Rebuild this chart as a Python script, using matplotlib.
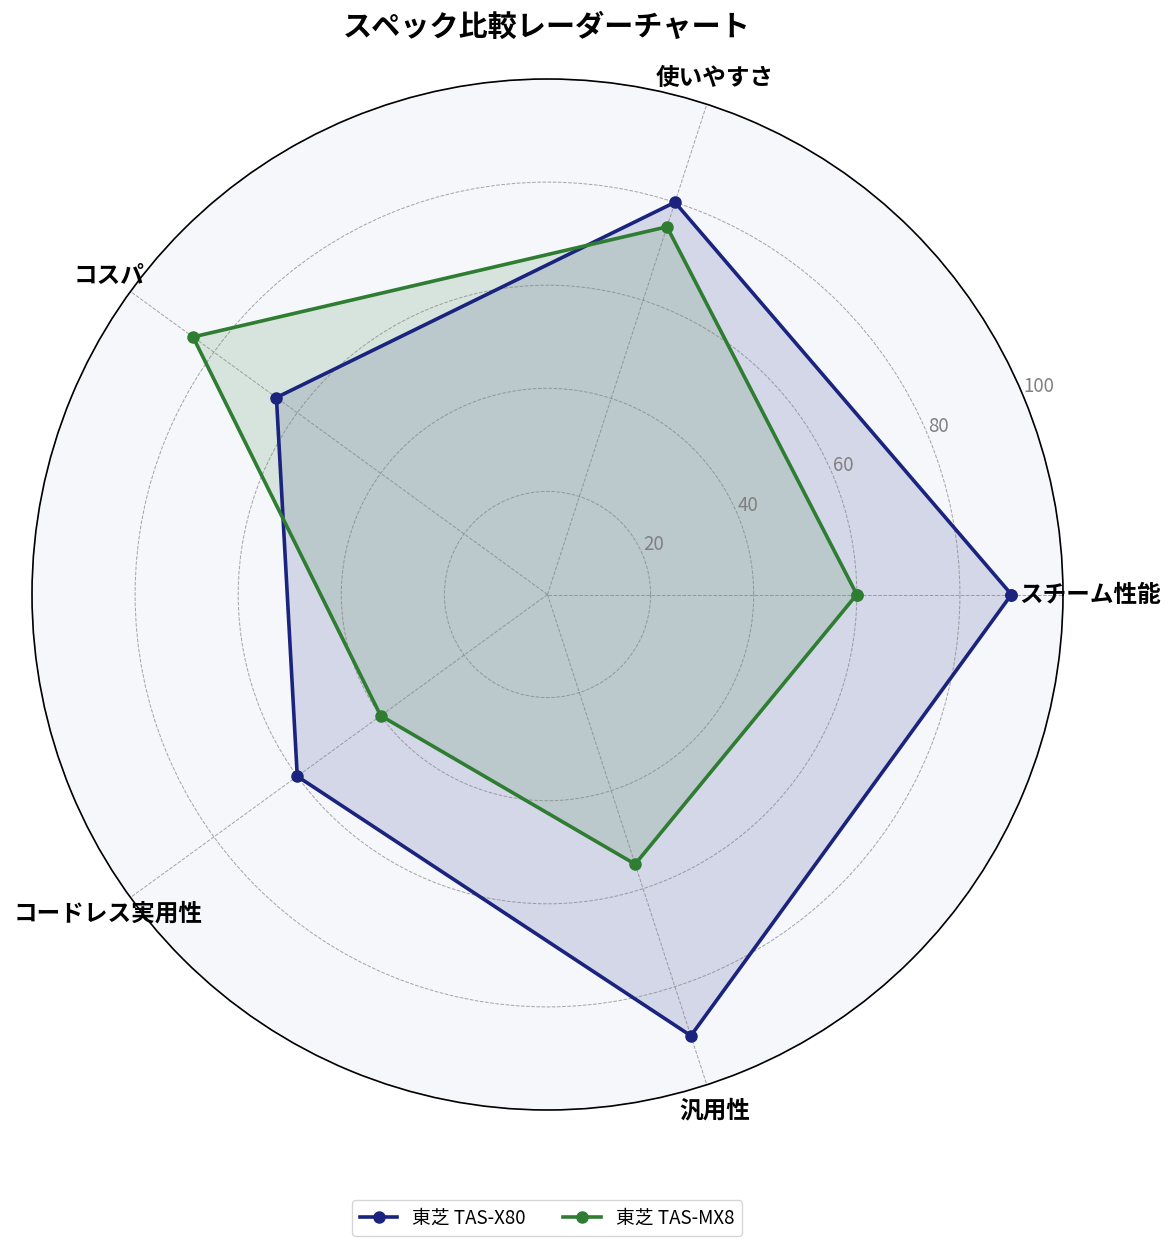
import numpy as np
import matplotlib
matplotlib.use("Agg")
import matplotlib.pyplot as plt

plt.rcParams['font.family'] = ['Noto Sans CJK JP', 'DejaVu Sans']

# data
categories = ["スチーム性能", "使いやすさ", "コスパ", "コードレス実用性", "汎用性"]
x80_scores = [90, 80, 65, 60, 90]
mx8_scores = [60, 75, 85, 40, 55]
series_names = ["東芝 TAS-X80", "東芝 TAS-MX8"]
series_colors = ["#1a237e", "#2e7d32"]
r_ticks = [20, 40, 60, 80, 100]

angles = np.linspace(0, 2 * np.pi, len(categories), endpoint=False)
angles_closed = np.append(angles, angles[0])

fig = plt.figure(figsize=(11.75, 12.51), dpi=100)
ax = fig.add_axes([32 / 1175, 141 / 1251, 1031 / 1175, 1031 / 1251], polar=True)
ax.set_facecolor("#f5f7fb")

for scores, name, col in zip([x80_scores, mx8_scores], series_names, series_colors):
    vals = np.append(scores, scores[0])
    ax.plot(angles_closed, vals, color=col, lw=2.6, marker="o", ms=8, label=name)
    ax.fill(angles_closed, vals, color=col, alpha=0.15)

ax.set_ylim(0, 100)
ax.set_yticks(r_ticks)
ax.set_yticklabels([str(t) for t in r_ticks], fontsize=13.5, color="gray")
ax.set_rlabel_position(22.5)
ax.set_xticks(angles)
ax.set_xticklabels(categories, fontsize=17, fontweight="bold")
ax.tick_params(axis="x", pad=9)
ax.grid(True, color="gray", ls="--", lw=0.7, alpha=0.7)
ax.spines["polar"].set_linewidth(1.2)

fig.text(547 / 1175, 1 - 27 / 1251, "スペック比較レーダーチャート", ha="center", va="center",
         fontsize=21, fontweight="bold")
fig.legend(loc="center", bbox_to_anchor=(547 / 1175, 1 - 1218 / 1251), ncol=2, fontsize=13.5)

fig.savefig("out.png", facecolor="white")
